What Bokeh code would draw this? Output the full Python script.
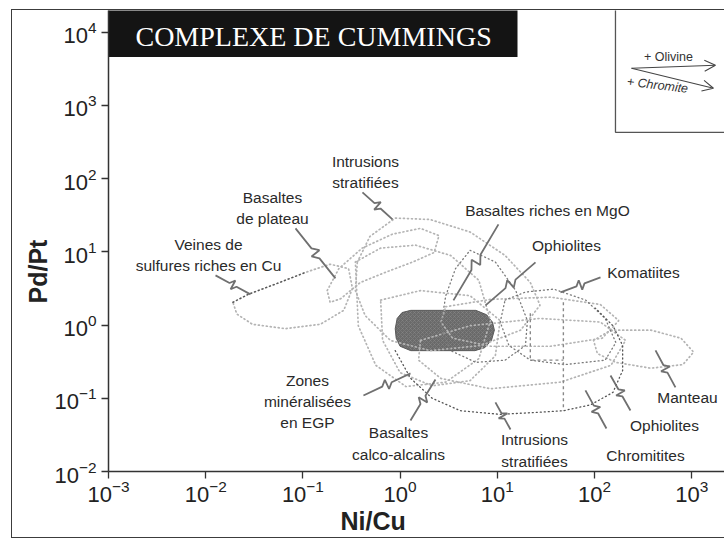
import numpy as np
from bokeh.plotting import figure
from bokeh.models import Range1d, FixedTicker, Title, Arrow, OpenHead
from bokeh.core.properties import value
from bokeh.embed import file_html
from bokeh.resources import INLINE

# ---------------- data (log10 values) ----------------
x_ticks = [1e-3, 1e-2, 1e-1, 1e0, 1e1, 1e2, 1e3]
y_ticks = [1e-2, 1e-1, 1e0, 1e1, 1e2, 1e3, 1e4]

# field outlines: log10(Ni/Cu), log10(Pd/Pt)
veines_x = [-1.72, -1.56, -1.28, -0.97, -0.72, -0.53, -0.49, -0.58, -0.82, -1.18, -1.52, -1.68]
veines_y = [0.31, 0.42, 0.56, 0.72, 0.83, 0.77, 0.50, 0.20, 0.01, -0.05, 0.01, 0.15]

plateau_x = [-0.75, -0.63, -0.39, -0.08, 0.21, 0.40, 0.35, 0.13, -0.15, -0.41, -0.61, -0.72]
plateau_y = [0.47, 0.77, 1.05, 1.24, 1.32, 1.22, 0.99, 0.86, 0.72, 0.58, 0.36, 0.31]

intr_up_x = [-0.44, -0.31, -0.05, 0.31, 0.72, 1.08, 1.34, 1.44, 1.24, 0.83, 0.31, -0.10, -0.36, -0.46]
intr_up_y = [0.86, 1.21, 1.46, 1.44, 1.27, 0.95, 0.58, 0.27, -0.07, -0.28, -0.35, -0.21, 0.13, 0.47]

mgo_x = [0.72, 0.98, 1.19, 1.31, 1.29, 1.08, 0.78, 0.52, 0.42, 0.47, 0.57]
mgo_y = [1.02, 0.86, 0.47, 0.06, -0.28, -0.48, -0.51, -0.35, -0.01, 0.40, 0.77]

komat_x = [1.08, 1.29, 1.58, 1.91, 2.11, 2.22, 2.11, 1.70, 1.34, 1.12, 1.03]
komat_y = [0.34, 0.45, 0.49, 0.34, 0.09, -0.24, -0.48, -0.54, -0.48, -0.28, 0.04]

ophio_x = [0.47, 0.93, 1.55, 2.06, 2.25, 2.08, 1.55, 0.93, 0.54, 0.42]
ophio_y = [0.25, 0.35, 0.38, 0.28, 0.06, -0.18, -0.29, -0.29, -0.18, 0.04]

manteau_x = [1.99, 2.17, 2.58, 2.89, 3.02, 2.91, 2.58, 2.22, 2.03]
manteau_y = [-0.21, -0.07, -0.07, -0.18, -0.37, -0.54, -0.59, -0.51, -0.39]

zones_x = [-0.46, -0.20, 0.16, 0.52, 0.81, 0.93, 0.81, 0.47, 0.06, -0.25, -0.43]
zones_y = [0.86, 1.05, 1.09, 0.95, 0.61, 0.06, -0.46, -0.78, -0.84, -0.55, -0.01]

calco_x = [-0.20, 0.21, 0.72, 1.03, 0.98, 0.72, 0.33, 0.00, -0.18]
calco_y = [0.34, 0.47, 0.40, 0.06, -0.42, -0.76, -0.83, -0.65, -0.21]

chrom_x = [0.21, 0.72, 1.44, 2.06, 2.32, 2.17, 1.65, 0.93, 0.42, 0.19]
chrom_y = [-0.21, -0.01, 0.09, 0.04, -0.21, -0.55, -0.78, -0.87, -0.73, -0.48]

# open outlines (dark dotted) and dashed limits
intr_low_x = [-0.05, 0.11, 0.33, 0.62, 1.03, 1.44, 1.68, 1.96, 2.19, 2.29, 2.29, 2.19, 2.01]
intr_low_y = [-0.35, -0.73, -1.00, -1.17, -1.22, -1.19, -1.17, -1.09, -0.92, -0.62, -0.28, -0.01, 0.23]

veines_top_x = [-1.72, -1.56, -1.28, -0.97]
veines_top_y = [0.31, 0.42, 0.56, 0.72]

dash_a_x = [1.68, 1.68]
dash_a_y = [0.31, -1.17]
dash_b_x = [1.34, 1.34, 1.68]
dash_b_y = [0.16, -0.48, -0.48]

# Cummings complex samples (filled field)
cumm_x = [0.11, 0.78, 0.89, 0.95, 0.97, 0.94, 0.87, 0.77, 0.11, 0.00, -0.04, -0.05, -0.03, 0.02]
cumm_y = [0.20, 0.20, 0.14, 0.04, -0.07, -0.21, -0.31, -0.35, -0.35, -0.29, -0.18, -0.05, 0.09, 0.17]

# labels (log10 positions) and leaders (start -> end, log10)
labels = ["Intrusions\nstratifiées", "Basaltes\nde plateau", "Veines de\nsulfures riches en Cu",
          "Basaltes riches en MgO", "Ophiolites", "Komatiites", "Manteau", "Ophiolites",
          "Chromitites", "Intrusions\nstratifiées", "Basaltes\ncalco-alcalins",
          "Zones\nminéralisées\nen EGP"]
label_x = [-0.356, -1.313, -1.971, 1.516, 1.712, 2.504, 2.957, 2.720, 2.525, 1.383, -0.016, -0.953]
label_y = [2.085, 1.593, 0.951, 1.566, 1.087, 0.719, -0.989, -1.372, -1.781, -1.713, -1.617, -1.044]

lead_x0 = [-0.387, -1.076, -1.899, 1.012, 1.393, 2.062, 2.833, 2.370, 2.123, 1.136, 0.107, -0.377]
lead_y0 = [1.811, 1.320, 0.678, 1.374, 0.855, 0.650, -0.852, -1.167, -1.413, -1.426, -1.303, -0.962]
lead_x1 = [-0.078, -0.665, -1.539, 0.549, 0.879, 1.650, 2.628, 2.165, 1.907, 0.981, 0.364, 0.107]
lead_y1 = [1.443, 0.637, 0.418, 0.336, 0.268, 0.445, -0.347, -0.689, -0.893, -1.057, -0.743, -0.661]

# ---------------- layout constants ----------------
X_LO, X_HI = -3.0, 3.348
Y_LO, Y_HI = -2.0, 4.294
PX_X, PX_Y = 97.2, 73.2   # pixels per decade (used for leader zigzags)

p = figure(width=713, height=529, x_axis_type="log", y_axis_type="log",
           x_range=Range1d(10 ** X_LO, 10 ** X_HI), y_range=Range1d(10 ** Y_LO, 10 ** Y_HI),
           output_backend="svg", toolbar_location=None,
           min_border_left=96, min_border_right=0, min_border_top=0, min_border_bottom=68)
p.styles = {"margin-left": "11px", "margin-top": "9px",
            "border-left": "1.5px solid #3c3c3c", "border-top": "1.5px solid #3c3c3c",
            "border-bottom": "1.5px solid #3c3c3c"}
p.outline_line_color = None
p.grid.visible = False

for ax, ticks in ((p.xaxis, x_ticks), (p.yaxis, y_ticks)):
    ax.ticker = FixedTicker(ticks=ticks)
    ax.minor_tick_line_color = None
    ax.axis_line_color = "#333333"
    ax.axis_line_width = 1.5
    ax.major_tick_line_color = "#333333"
    ax.major_tick_line_width = 1.3
    ax.major_tick_out = 7
    ax.major_tick_in = 0
    ax.major_label_text_font = "Liberation Sans"
    ax.major_label_text_font_size = "22px"
    ax.major_label_text_color = "#222222"
p.xaxis.major_label_standoff = 1
p.yaxis.major_label_standoff = 5

p.add_layout(Title(text="Pd/Pt", align="left", offset=168, standoff=0,
                   text_font="Liberation Sans", text_font_size="25px",
                   text_font_style="bold", text_color="#222222"), "left")
p.add_layout(Title(text="Ni/Cu", align="left", offset=232, standoff=0,
                   text_font="Liberation Sans", text_font_size="25px",
                   text_font_style="bold", text_color="#222222"), "below")

def lin(a):
    return [10 ** v for v in a]

def closed(a):
    return lin(list(a) + [a[0]])

# filled Cummings field
p.patch(lin(cumm_x), lin(cumm_y), fill_color="#6a6a6a", line_color="#5a5a5a", line_width=1,
        hatch_pattern="x", hatch_color="#959595", hatch_scale=4, hatch_weight=0.6, hatch_alpha=0.6)

gray_fields = [(veines_x, veines_y), (plateau_x, plateau_y), (intr_up_x, intr_up_y),
               (ophio_x, ophio_y), (manteau_x, manteau_y), (zones_x, zones_y),
               (calco_x, calco_y), (chrom_x, chrom_y)]
p.multi_line([closed(fx) for fx, fy in gray_fields], [closed(fy) for fx, fy in gray_fields],
             line_color="#b4b4b4", line_width=1.7, line_dash="1 3", line_cap="round")

dark_closed = [(mgo_x, mgo_y), (komat_x, komat_y)]
p.multi_line([closed(fx) for fx, fy in dark_closed], [closed(fy) for fx, fy in dark_closed],
             line_color="#7a7a7a", line_width=1.3, line_dash="1 3", line_cap="round")
p.multi_line([lin(intr_low_x), lin(veines_top_x)], [lin(intr_low_y), lin(veines_top_y)],
             line_color="#555555", line_width=1.3, line_dash="1 3", line_cap="round")
p.multi_line([lin(dash_a_x), lin(dash_b_x)], [lin(dash_a_y), lin(dash_b_y)],
             line_color="#888888", line_width=1.4, line_dash="3 3")

# leaders with a zigzag
def zigzag(x0, y0, x1, y1):
    dx, dy = (x1 - x0) * PX_X, (y1 - y0) * PX_Y
    L = (dx * dx + dy * dy) ** 0.5
    nx, ny = -dy / L, dx / L
    pts = [(0, 0), (0.40, 0), (0.50, 5), (0.50, -5), (0.60, 0), (1.0, 0)]
    xs, ys = [], []
    for t, o in pts:
        px = t * dx + o * nx
        py = t * dy + o * ny
        xs.append(10 ** (x0 + px / PX_X))
        ys.append(10 ** (y0 + py / PX_Y))
    return xs, ys

lx, ly = [], []
for a, b, c, d in zip(lead_x0, lead_y0, lead_x1, lead_y1):
    zx, zy = zigzag(a, b, c, d)
    lx.append(zx)
    ly.append(zy)
p.multi_line(lx, ly, line_color="#707070", line_width=1.8)

p.text(lin(label_x), lin(label_y), text=labels, text_align="center", text_baseline="middle",
       text_font=value("Liberation Sans"), text_font_size="15.5px", text_color="#2a2a2a",
       text_line_height=1.25)

# title banner
p.quad(left=[10 ** -3.5], right=[10 ** 1.208], bottom=[10 ** 3.658], top=[10 ** 5],
       fill_color="#141414", line_color=None)
p.text([10 ** -0.89], [10 ** 3.94], text=["COMPLEXE DE CUMMINGS"], text_align="center",
       text_baseline="middle", text_font=value("Liberation Serif"), text_font_size="28px",
       text_color="white")

# inset
p.quad(left=[10 ** 2.216], right=[10 ** 4], bottom=[10 ** 2.631], top=[10 ** 5],
       fill_color="white", line_color="#555555", line_width=1.3)
p.text([10 ** 2.761], [10 ** 3.656], text=["+ Olivine"], text_align="center",
       text_baseline="middle", text_font=value("Liberation Sans"), text_font_size="12.5px",
       text_color="#333333")
p.text([10 ** 2.648], [10 ** 3.273], text=["+ Chromite"], text_align="center",
       text_baseline="middle", text_font=value("Liberation Sans"), text_font_size="12.5px",
       text_font_style="italic", text_color="#333333", angle=-0.12)
for xe, ye in ((3.245, 3.546), (3.224, 3.232)):
    p.add_layout(Arrow(end=OpenHead(size=11, line_color="#444444", line_width=1.1),
                       x_start=10 ** 2.381, y_start=10 ** 3.505, x_end=10 ** xe, y_end=10 ** ye,
                       line_color="#444444", line_width=1.1))

open("out.html", "w").write(file_html(p, INLINE))
